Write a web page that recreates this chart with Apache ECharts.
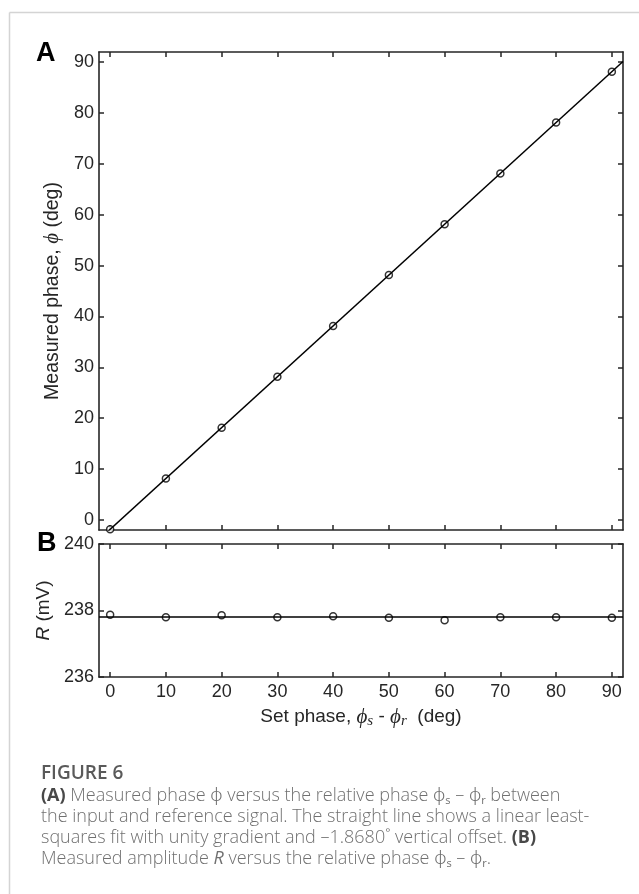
<!DOCTYPE html>
<html>
<head>
<meta charset="utf-8">
<script src="https://cdn.jsdelivr.net/npm/echarts@6/dist/echarts.min.js"></script>
<style>
  html, body { margin: 0; padding: 0; background: #fff; }
  #chart { width: 639px; height: 894px; }
</style>
</head>
<body>
<div id="chart"></div>
<script>
// set phase (deg), x of both panels
const setPhase = [0, 10, 20, 30, 40, 50, 60, 70, 80, 90];
// panel A: measured phase (deg)
const measuredPhase = [-1.87, 8.13, 18.13, 28.13, 38.13, 48.13, 58.13, 68.13, 78.13, 88.13];
// panel B: measured amplitude R (mV)
const amplitude = [237.87, 237.8, 237.86, 237.8, 237.83, 237.78, 237.71, 237.8, 237.8, 237.78];
// least-squares fit: unity gradient, vertical offset
const fitOffset = -1.868;
const xRange = [-2, 92];
const phaseRange = [-2, 92];
const ampRange = [236, 240];
const xTicks = [0, 10, 20, 30, 40, 50, 60, 70, 80, 90];
const phaseTicks = [0, 10, 20, 30, 40, 50, 60, 70, 80, 90];

const ampMean = amplitude.reduce((a, b) => a + b, 0) / amplitude.length;
const fitLine = xRange.map(x => [x, x + fitOffset]);
const ampLine = xRange.map(x => [x, ampMean]);

const chart = echarts.init(document.getElementById('chart'));

const frame = '#262626';
const sans = "'Liberation Sans', Arial, sans-serif";
const serif = "'Liberation Serif', 'DejaVu Serif', serif";
const capFont = "'Open Sans', 'Noto Sans', sans-serif";

// one axis of the boxed frame
function xAx(grid, pos, labels) {
  return {
    type: 'value', gridIndex: grid, position: pos,
    min: xRange[0], max: xRange[1],
    axisLine: { show: true, onZero: false, lineStyle: { color: frame, width: 1.6 } },
    axisTick: { show: true, inside: true, length: 5, customValues: xTicks, lineStyle: { color: frame, width: 1.5 } },
    axisLabel: { show: labels, customValues: xTicks, margin: 6, fontSize: 18, fontFamily: sans, color: '#262626' },
    splitLine: { show: false },
  };
}

function yAx(grid, pos, range, ticks, labels) {
  const ax = {
    type: 'value', gridIndex: grid, position: pos,
    min: range[0], max: range[1],
    axisLine: { show: true, onZero: false, lineStyle: { color: frame, width: 1.6 } },
    axisTick: { show: true, inside: true, length: 5, lineStyle: { color: frame, width: 1.5 } },
    axisLabel: { show: labels, margin: 5, fontSize: 18, fontFamily: sans, color: '#262626' },
    splitLine: { show: false },
  };
  if (ticks) {
    ax.axisTick.customValues = ticks;
    ax.axisLabel.customValues = ticks;
  } else {
    ax.interval = 2;
  }
  return ax;
}

const xAxes = [xAx(0, 'bottom', false), xAx(0, 'top', false), xAx(1, 'bottom', true), xAx(1, 'top', false)];
xAxes[2].name = '{n|Set phase, }{i|ϕ}{sub|s}{n| - }{i|ϕ}{sub|r}{n|  (deg)}';
xAxes[2].nameLocation = 'middle';
xAxes[2].nameGap = 28;
xAxes[2].nameTextStyle = {
  rich: {
    n: { fontSize: 19, fontFamily: sans, color: '#262626', lineHeight: 24 },
    i: { fontSize: 21, fontFamily: serif, fontStyle: 'italic', color: '#262626', lineHeight: 24 },
    sub: { fontSize: 15, fontFamily: serif, fontStyle: 'italic', color: '#262626', lineHeight: 12, verticalAlign: 'bottom' },
  },
};

const yAxes = [
  yAx(0, 'left', phaseRange, phaseTicks, true),
  yAx(0, 'right', phaseRange, phaseTicks, false),
  yAx(1, 'left', ampRange, null, true),
  yAx(1, 'right', ampRange, null, false),
];
yAxes[0].name = '{n|Measured phase, }{i|ϕ}{n| (deg)}';
yAxes[0].nameLocation = 'middle';
yAxes[0].nameGap = 31;
yAxes[0].nameTextStyle = {
  rich: {
    n: { fontSize: 19.5, fontFamily: sans, color: '#262626' },
    i: { fontSize: 21, fontFamily: serif, fontStyle: 'italic', color: '#262626' },
  },
};
yAxes[2].name = '{i|R}{n| (mV)}';
yAxes[2].nameLocation = 'middle';
yAxes[2].nameGap = 37;
yAxes[2].nameTextStyle = {
  rich: {
    n: { fontSize: 19, fontFamily: sans, color: '#262626' },
    i: { fontSize: 19, fontFamily: sans, fontStyle: 'italic', color: '#262626' },
  },
};

const marker = {
  symbol: 'circle', symbolSize: 7,
  itemStyle: { color: '#fff', borderColor: '#000', borderWidth: 1.5 },
};

const caption =
  '{b|(A)} Measured phase ϕ versus the relative phase ϕ{sub|s} – ϕ{sub|r} between\n' +
  'the input and reference signal. The straight line shows a linear least-\n' +
  'squares fit with unity gradient and –1.8680˚ vertical offset. {b|(B)}\n' +
  'Measured amplitude {it|R} versus the relative phase ϕ{sub|s} – ϕ{sub|r}.';

chart.setOption({
  animation: false,
  grid: [
    { left: 99, top: 52, width: 524, height: 478, outerBoundsMode: 'none' },
    { left: 99, top: 544, width: 524, height: 133, outerBoundsMode: 'none' },
  ],
  xAxis: xAxes,
  yAxis: yAxes,
  series: [
    {
      type: 'line', xAxisIndex: 0, yAxisIndex: 0, data: fitLine,
      showSymbol: false, silent: true, clip: true,
      lineStyle: { color: '#000', width: 1.5 },
    },
    {
      type: 'scatter', xAxisIndex: 0, yAxisIndex: 0, silent: true,
      data: setPhase.map((x, i) => [x, measuredPhase[i]]), ...marker,
    },
    {
      type: 'line', xAxisIndex: 2, yAxisIndex: 2, data: ampLine,
      showSymbol: false, silent: true, clip: true,
      lineStyle: { color: '#000', width: 1.5 },
    },
    {
      type: 'scatter', xAxisIndex: 2, yAxisIndex: 2, silent: true,
      data: setPhase.map((x, i) => [x, amplitude[i]]), ...marker,
    },
  ],
  graphic: [
    // card border
    { type: 'line', shape: { x1: 9.5, y1: 12.5, x2: 639, y2: 12.5 }, style: { stroke: '#d4d4d4', lineWidth: 1.5 } },
    { type: 'line', shape: { x1: 9.5, y1: 12.5, x2: 9.5, y2: 894 }, style: { stroke: '#d4d4d4', lineWidth: 1.5 } },
    { type: 'text', x: 36, y: 54, style: { text: 'A', font: "bold 27px 'Liberation Sans', Arial", fill: '#000', verticalAlign: 'middle' } },
    { type: 'text', x: 37, y: 544, style: { text: 'B', font: "bold 27px 'Liberation Sans', Arial", fill: '#000', verticalAlign: 'middle' } },
    {
      type: 'text', x: 41, y: 764,
      style: { text: 'FIGURE 6', font: '600 19px ' + capFont, fill: '#5a5a5a', verticalAlign: 'top' },
    },
    {
      type: 'text', x: 41, y: 785,
      style: {
        text: caption,
        font: '300 18px ' + capFont,
        fill: '#707070',
        lineHeight: 21,
        verticalAlign: 'top',
        rich: {
          b: { fontWeight: 'bold', fontSize: 18, fontFamily: capFont, fill: '#484848', lineHeight: 21 },
          it: { fontStyle: 'italic', fontSize: 18, fontFamily: capFont, fill: '#707070', lineHeight: 21 },
          sub: { fontSize: 11, fontFamily: capFont, fill: '#707070', lineHeight: 12, verticalAlign: 'bottom' },
        },
      },
    },
  ],
});
</script>
</body>
</html>
